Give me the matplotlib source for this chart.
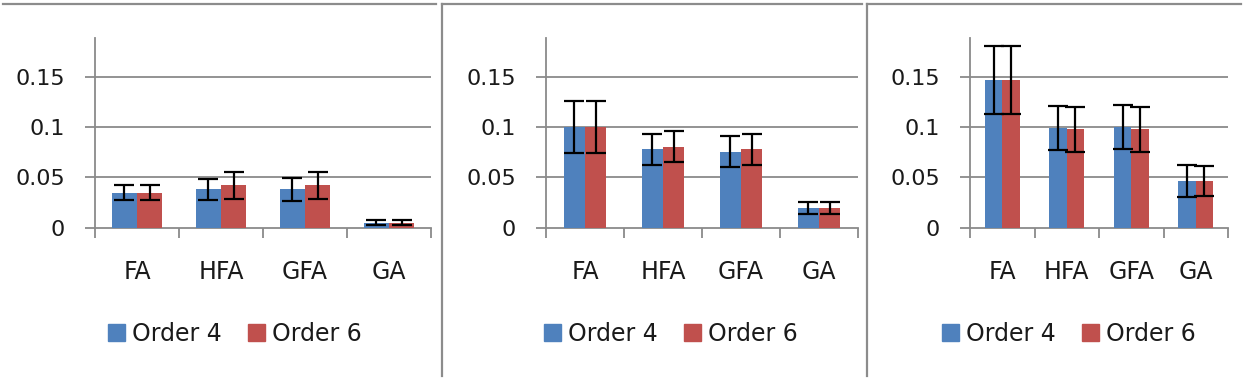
import numpy as np
import matplotlib.pyplot as plt
from matplotlib.lines import Line2D

# Data (three panels, two series each)
categories = ['FA', 'HFA', 'GFA', 'GA']
series_names = ['Order 4', 'Order 6']

p1_order4 = [0.035, 0.038, 0.038, 0.005]
p1_order6 = [0.035, 0.042, 0.042, 0.005]
p1_err4 = [0.0075, 0.0103, 0.0115, 0.0025]
p1_err6 = [0.0075, 0.013, 0.013, 0.0025]

p2_order4 = [0.1, 0.078, 0.0756, 0.020]
p2_order6 = [0.1, 0.0806, 0.078, 0.020]
p2_err4 = [0.026, 0.0155, 0.0155, 0.006]
p2_err6 = [0.026, 0.0157, 0.0157, 0.006]

p3_order4 = [0.1468, 0.0988, 0.0998, 0.0464]
p3_order6 = [0.1468, 0.098, 0.098, 0.0464]
p3_err4 = [0.034, 0.022, 0.022, 0.0157]
p3_err6 = [0.034, 0.0225, 0.0225, 0.015]

yticks = [0, 0.05, 0.1, 0.15]
ytick_labels = ['0', '0.05', '0.1', '0.15']

BLUE = '#4F81BD'
RED = '#C0504D'
GRID = '#8a8a8a'
FRAME = '#8c8c8c'

W, H = 1245, 379
fig = plt.figure(figsize=(W / 100, H / 100), dpi=100)

def px_rect(x0, x1, ytop, ybot):
    # pixel box (from the top-left) -> figure fraction
    return [x0 / W, 1 - ybot / H, (x1 - x0) / W, (ybot - ytop) / H]

panels = [
    (p1_order4, p1_order6, p1_err4, p1_err6, (95, 431), 0.30, 235),
    (p2_order4, p2_order6, p2_err4, p2_err6, (546, 858), 0.27, 671),
    (p3_order4, p3_order6, p3_err4, p3_err6, (970, 1228), 0.27, 1069),
]

for v4, v6, e4, e6, (xl, xr), bw, leg_x in panels:
    ax = fig.add_axes(px_rect(xl, xr, 37.7, 227.7))
    x = np.arange(len(categories))
    ax.bar(x - bw / 2, v4, bw, color=BLUE, zorder=3)
    ax.bar(x + bw / 2, v6, bw, color=RED, zorder=3)
    ax.errorbar(x - bw / 2, v4, yerr=e4, fmt='none', ecolor='black',
                elinewidth=1.6, capsize=7.5, capthick=1.6, zorder=4)
    ax.errorbar(x + bw / 2, v6, yerr=e6, fmt='none', ecolor='black',
                elinewidth=1.6, capsize=7.5, capthick=1.6, zorder=4)

    ax.set_xlim(-0.5, len(categories) - 0.5)
    ax.set_ylim(0, 0.189)
    ax.set_yticks(yticks)
    ax.set_yticklabels(ytick_labels)
    for yv in yticks[1:]:
        ax.axhline(yv, color=GRID, lw=1.3, zorder=1)

    # category labels at centres, tick marks at category boundaries
    ax.set_xticks(x)
    ax.set_xticklabels(categories)
    ax.set_xticks(np.arange(len(categories) + 1) - 0.5, minor=True)
    ax.tick_params(axis='x', which='major', length=0, pad=23, labelsize=17,
                   labelcolor='#1a1a1a')
    ax.tick_params(axis='x', which='minor', length=7.5, width=1.3, color=GRID)
    ax.tick_params(axis='y', length=7.5, width=1.3, color=GRID, pad=14,
                   labelsize=16, labelcolor='#1a1a1a')

    for s in ['top', 'right']:
        ax.spines[s].set_visible(False)
    for s in ['left', 'bottom']:
        ax.spines[s].set_color(GRID)
        ax.spines[s].set_linewidth(1.3)

    handles = [plt.Rectangle((0, 0), 1, 1, color=BLUE),
               plt.Rectangle((0, 0), 1, 1, color=RED)]
    leg = fig.legend(handles, series_names, loc='center', ncol=2, frameon=False,
                     bbox_to_anchor=(leg_x / W, 1 - 334 / H), fontsize=17,
                     handlelength=0.72, handleheight=0.72, handletextpad=0.3,
                     columnspacing=1.1, borderpad=0, borderaxespad=0)
    for t in leg.get_texts():
        t.set_color('#1a1a1a')

# panel frames (the three screenshots are stitched side by side)
frame_lines = [
    ([3, 436], [4, 4]),
    ([442, 442], [4, 376]), ([442, 862], [4, 4]),
    ([867, 867], [4, 376]), ([867, 1241], [4, 4]),
]
for xs, ys in frame_lines:
    fig.add_artist(Line2D([xx / W for xx in xs], [1 - yy / H for yy in ys],
                          color=FRAME, lw=1.6))

fig.savefig('out.png', dpi=100)
